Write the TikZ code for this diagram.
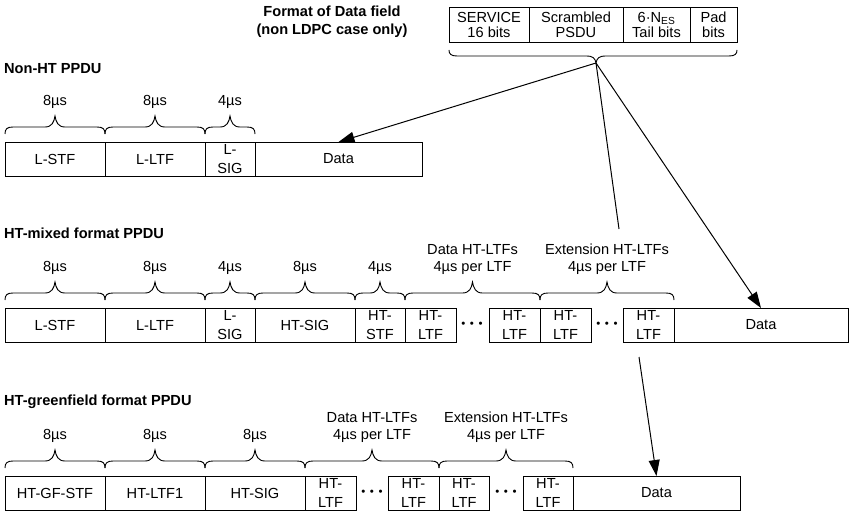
\documentclass[tikz,border=0pt]{standalone}
\usepackage{fontspec}
\setmainfont{Liberation Sans}
\usetikzlibrary{arrows.meta}
\newcommand\ubr[3]{%
  \pgfmathsetmacro\brmid{(#1+#2)/2}%
  \draw[brc] (#1,#3) .. controls ({#1},{#3-5}) and ({#1+2},{#3-7}) .. ({#1+8},{#3-7})
    -- ({\brmid-10},{#3-7}) .. controls ({\brmid-3},{#3-7}) and ({\brmid-1},{#3-12}) .. ({\brmid},{#3-18})
    .. controls ({\brmid+1},{#3-12}) and ({\brmid+3},{#3-7}) .. ({\brmid+10},{#3-7})
    -- ({#2-8},{#3-7}) .. controls ({#2-2},{#3-7}) and ({#2},{#3-5}) .. (#2,#3);}
\begin{document}
\begin{tikzpicture}[x=1pt,y=-1pt,
  fld/.style={draw, rectangle, inner sep=0pt, outer sep=0pt, minimum height=34pt,
    anchor=north west, align=center, font=\fontsize{14.6}{19}\selectfont, line width=0.9pt},
  fw/.style={minimum width=#1pt},
  dfld/.style={fld, minimum height=35pt, font=\fontsize{14.6}{15}\selectfont},
  lbl/.style={inner sep=0pt, align=center, font=\fontsize{14.6}{17}\selectfont},
  ttl/.style={inner sep=0pt, anchor=west, font=\fontsize{14.6}{18}\selectfont\bfseries},
  dts/.style={inner sep=0pt, font=\fontsize{11.5}{12}\selectfont},
  brc/.style={line width=0.9pt},
  lnk/.style={line width=1pt},
  arr/.style={lnk, -{Triangle[length=16pt,width=11pt]}}]
\useasboundingbox (0,0) rectangle (862,516);

% ---- Data field format ----
\node[inner sep=0pt, align=center, font=\fontsize{14.6}{18}\selectfont\bfseries] (ftitle) at (332,22)
  {Format of Data field\\(non LDPC case only)};
\node[dfld, fw=80] (d1) at (449,7) {SERVICE\\16 bits};
\node[dfld, fw=94] (d2) at (529,7) {Scrambled\\PSDU};
\node[dfld, fw=67] (d3) at (623,7) {6·N\textsubscript{ES}\\Tail bits};
\node[dfld, fw=47] (d4) at (690,7) {Pad\\bits};
\draw[brc] (449,50) .. controls (449,54) and (451,56) .. (457,56) -- (586,56)
  .. controls (593,56) and (595,58) .. (596,63)
  .. controls (597,58) and (599,56) .. (606,56) -- (729,56)
  .. controls (735,56) and (737,54) .. (737,50);
\coordinate (dt) at (596,63);

% ---- Non-HT PPDU ----
\node[ttl] (t1) at (4,69) {Non-HT PPDU};
\node[fld, fw=100] (n1) at (5,142) {L-STF};
\node[fld, fw=100] (n2) at (105,142) {L-LTF};
\node[fld, fw=50] (n3) at (205,142) {L-\\SIG};
\node[fld, fw=167] (n4) at (255,142) {Data};
\ubr{5}{105}{134}\ubr{105}{205}{134}\ubr{205}{255}{134}
\node[lbl] (nl1) at (55,102) {8µs};
\node[lbl] (nl2) at (155,102) {8µs};
\node[lbl] (nl3) at (230,102) {4µs};

% ---- HT-mixed format PPDU ----
\node[ttl] (t2) at (4,233) {HT-mixed format PPDU};
\node[fld, fw=100] (m1) at (5,308) {L-STF};
\node[fld, fw=100] (m2) at (105,308) {L-LTF};
\node[fld, fw=50] (m3) at (205,308) {L-\\SIG};
\node[fld, fw=100] (m4) at (255,308) {HT-SIG};
\node[fld, fw=50] (m5) at (355,308) {HT-\\STF};
\node[fld, fw=51] (m6) at (405,308) {HT-\\LTF};
\node[dts] (md1) at (472,325) {•\hspace{4.5pt}•\hspace{4.5pt}•};
\node[fld, fw=51] (m7) at (489,308) {HT-\\LTF};
\node[fld, fw=51] (m8) at (540,308) {HT-\\LTF};
\node[dts] (md2) at (607,325) {•\hspace{4.5pt}•\hspace{4.5pt}•};
\node[fld, fw=51] (m9) at (623,308) {HT-\\LTF};
\node[fld, fw=174] (m10) at (674,308) {Data};
\ubr{5}{105}{300}\ubr{105}{205}{300}\ubr{205}{255}{300}\ubr{255}{355}{300}
\ubr{355}{405}{300}\ubr{405}{540}{300}\ubr{540}{674}{300}
\node[lbl] (ml1) at (55,268) {8µs};
\node[lbl] (ml2) at (155,268) {8µs};
\node[lbl] (ml3) at (230,268) {4µs};
\node[lbl] (ml4) at (305,268) {8µs};
\node[lbl] (ml5) at (380,268) {4µs};
\node[lbl] (ml6) at (472.5,259.5) {Data HT-LTFs\\4µs per LTF};
\node[lbl] (ml7) at (607,259.5) {Extension HT-LTFs\\4µs per LTF};

% ---- HT-greenfield format PPDU ----
\node[ttl] (t3) at (4,402) {HT-greenfield format PPDU};
\node[fld, fw=100] (g1) at (5,476) {HT-GF-STF};
\node[fld, fw=100] (g2) at (105,476) {HT-LTF1};
\node[fld, fw=100] (g3) at (205,476) {HT-SIG};
\node[fld, fw=51] (g4) at (305,476) {HT-\\LTF};
\node[dts] (gd1) at (372,493) {•\hspace{4.5pt}•\hspace{4.5pt}•};
\node[fld, fw=51] (g5) at (388,476) {HT-\\LTF};
\node[fld, fw=50] (g6) at (439,476) {HT-\\LTF};
\node[dts] (gd2) at (506,493) {•\hspace{4.5pt}•\hspace{4.5pt}•};
\node[fld, fw=50] (g7) at (523,476) {HT-\\LTF};
\node[fld, fw=167] (g8) at (573,476) {Data};
\ubr{5}{105}{468}\ubr{105}{205}{468}\ubr{205}{305}{468}
\ubr{305}{439}{468}\ubr{439}{573}{468}
\node[lbl] (gl1) at (55,436) {8µs};
\node[lbl] (gl2) at (155,436) {8µs};
\node[lbl] (gl3) at (255,436) {8µs};
\node[lbl] (gl4) at (372,427.5) {Data HT-LTFs\\4µs per LTF};
\node[lbl] (gl5) at (506,427.5) {Extension HT-LTFs\\4µs per LTF};

% ---- connectors ----
\coordinate (lend) at (619,229);
\coordinate (gs) at (639,357);
\draw[arr] (dt) -- (n4.north);
\draw[lnk] (dt) -- (lend);
\draw[arr] (dt) -- (m10.north);
\draw[arr] (gs) -- (g8.north);
\end{tikzpicture}
\end{document}
